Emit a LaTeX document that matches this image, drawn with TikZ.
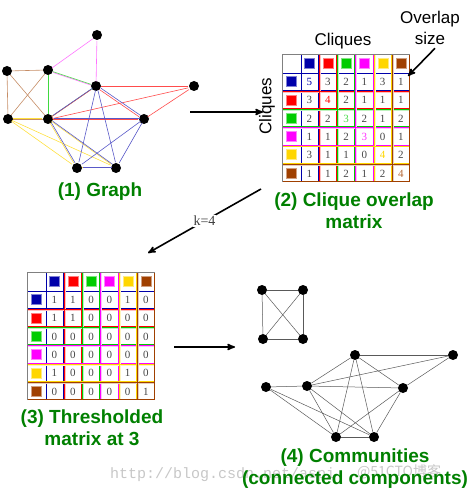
\documentclass[tikz,border=0pt]{standalone}
\usepackage{fontspec}
\setmainfont{Liberation Serif}
\setsansfont{Liberation Sans}
\setmonofont{Liberation Mono}
\newfontfamily\cjkfont{Noto Sans CJK SC}
\usetikzlibrary{arrows, positioning}
\definecolor{cblue}{RGB}{0,0,170}
\definecolor{cred}{RGB}{255,0,0}
\definecolor{cgreen}{RGB}{0,204,0}
\definecolor{cmagenta}{RGB}{255,0,255}
\definecolor{cyellow}{RGB}{255,214,0}
\definecolor{cbrown}{RGB}{160,64,0}
\definecolor{titlegreen}{RGB}{0,128,0}
\definecolor{numgray}{RGB}{70,70,70}
\tikzstyle{vertex} = [circle, fill=black, inner sep=0pt, minimum size=10pt]
\tikzstyle{title} = [font=\sffamily\bfseries\fontsize{19}{22}\selectfont, text=titlegreen, align=center]
\tikzstyle{axis} = [font=\sffamily\fontsize{17}{21}\selectfont, align=center]
\tikzstyle{arrow} = [line width=1.6pt,->,>=stealth']
\tikzstyle{entry} = [font=\fontsize{11}{11}\selectfont, text=numgray, inner sep=0pt]
\tikzstyle{edge} = [line width=0.6pt]
\tikzstyle{comm} = [black!65, line width=0.5pt]
\tikzstyle{qblue} = [edge, cblue!65, transform canvas={shift={(0.7pt,0.7pt)}}]
\tikzstyle{qred} = [edge, cred!70, transform canvas={shift={(-0.7pt,-0.7pt)}}]
\tikzstyle{qgreen} = [edge, cgreen!75]
\tikzstyle{qmagenta} = [edge, cmagenta!55, transform canvas={shift={(0pt,-0.8pt)}}]
\tikzstyle{qyellow} = [edge, cyellow!75, transform canvas={shift={(-0.7pt,0.7pt)}}]
\tikzstyle{qbrown} = [edge, cbrown!60]
% grid of a 7x7 clique matrix, top-left corner at (#1,#2)
\newcommand{\cliquegrid}[2]{%
  \begin{scope}[shift={(#1,#2)}]
    \foreach \c [count=\k] in {cblue,cred,cgreen,cmagenta,cyellow,cbrown} {
      \draw[\c!25, line width=1.6pt] ({\k*18.3+1.2},0) -- ++(0,128.1);
      \draw[\c!25, line width=1.6pt] (0,{\k*18.3+1.2}) -- ++(128.1,0);
      \draw[\c, line width=0.5pt] ({\k*18.3+0.5},0) -- ++(0,128.1);
      \draw[\c, line width=0.5pt] ({(\k+1)*18.3-0.5},0) -- ++(0,128.1);
      \draw[\c, line width=0.5pt] (0,{\k*18.3+0.5}) -- ++(128.1,0);
      \draw[\c, line width=0.5pt] (0,{(\k+1)*18.3-0.5}) -- ++(128.1,0);
      \draw[\c!50, fill=\c] ({\k*18.3+4.2},4.2) rectangle ++(10,10);
      \draw[\c!50, fill=\c] (4.2,{\k*18.3+4.2}) rectangle ++(10,10);
    }
    \draw[gray, line width=0.6pt] (0,128.1) -- (0,0) -- (128.1,0);
  \end{scope}}

\begin{document}
\begin{tikzpicture}[x=1pt, y=-1pt]
\useasboundingbox (0,0) rectangle (470,494);

% watermark
\node[anchor=base west, font=\ttfamily\fontsize{15}{15}\selectfont, text=black!22, inner sep=0pt] (wmark) at (110,478) {http://blog.csdn.net/aspi};
\node[anchor=base west, font=\cjkfont\fontsize{14}{14}\selectfont, text=black!22, inner sep=0pt] (wmark2) at (357,476) {@51CTO博客};

% (1) graph
\node[vertex] (gA) at (97,35) {};
\node[vertex] (gB) at (7,71) {};
\node[vertex] (gC) at (48,70) {};
\node[vertex] (gD) at (96,86) {};
\node[vertex] (gE) at (194,86) {};
\node[vertex] (gF) at (8,119) {};
\node[vertex] (gG) at (48,119) {};
\node[vertex] (gH) at (144,119) {};
\node[vertex] (gI) at (77,168) {};
\node[vertex] (gJ) at (116,168) {};

\foreach \a/\b in {gB/gC, gB/gF, gB/gG, gC/gF, gC/gG, gF/gG}
  \draw[qbrown] (\a) -- (\b);
\foreach \a/\b in {gA/gC, gA/gD, gC/gD}
  \draw[qmagenta] (\a) -- (\b);
\foreach \a/\b in {gC/gD, gC/gG, gD/gG}
  \draw[qgreen] (\a) -- (\b);
\foreach \a/\b in {gF/gG, gF/gI, gF/gJ, gG/gI, gG/gJ, gI/gJ}
  \draw[qyellow] (\a) -- (\b);
\foreach \a/\b in {gD/gE, gD/gH, gD/gG, gG/gH, gG/gE, gH/gE}
  \draw[qred] (\a) -- (\b);
\foreach \a/\b in {gD/gG, gD/gH, gD/gI, gD/gJ, gG/gH, gG/gI, gG/gJ, gH/gI, gH/gJ, gI/gJ}
  \draw[qblue] (\a) -- (\b);

\node[title] (graphtitle) at (100,192) {(1) Graph};

% (2) clique overlap matrix
\cliquegrid{282}{54}
\foreach \row/\dc [count=\i] in {{5,3,2,1,3,1}/cblue, {3,4,2,1,1,1}/cred, {2,2,3,2,1,2}/cgreen!70, {1,1,2,3,0,1}/cmagenta!80, {3,1,1,0,4,2}/cyellow, {1,1,2,1,2,4}/cbrown!80}
  \foreach \v [count=\j] in \row
    \node[entry] at ({282+\j*18.3+9.15},{54+\i*18.3+9.6}) {\ifnum\i=\j\color{\dc}\fi\v};

\node[axis] (cliquestop) at (343,41) {Cliques};
\node[axis, rotate=90] (cliquesleft) at (267,106) {Cliques};
\node[axis] (overlap) at (430,28) {Overlap\\size};
\coordinate (sizetip) at (408,76);
\draw[arrow] ([xshift=5pt]overlap.south) -- (sizetip);

\node[title] (overlaptitle) at (354,211) {(2) Clique overlap\\matrix};

% (3) thresholded matrix
\cliquegrid{27}{272}
\foreach \row [count=\i] in {{1,1,0,0,1,0}, {1,1,0,0,0,0}, {0,0,0,0,0,0}, {0,0,0,0,0,0}, {1,0,0,0,1,0}, {0,0,0,0,0,1}}
  \foreach \v [count=\j] in \row
    \node[entry] at ({27+\j*18.3+9.15},{272+\i*18.3+9.6}) {\v};

\node[title] (threshtitle) at (92,428) {(3) Thresholded\\matrix at 3};

% (4) communities
\node[vertex] (sB) at (262,290) {};
\node[vertex] (sC) at (303,290) {};
\node[vertex] (sF) at (263,339) {};
\node[vertex] (sG) at (303,339) {};
\foreach \a/\b in {sB/sC, sB/sF, sB/sG, sC/sF, sC/sG, sF/sG}
  \draw[comm] (\a) -- (\b);

\node[vertex] (cD) at (355,355) {};
\node[vertex] (cE) at (453,355) {};
\node[vertex] (cF) at (266,387) {};
\node[vertex] (cG) at (307,386) {};
\node[vertex] (cH) at (403,388) {};
\node[vertex] (cI) at (336,437) {};
\node[vertex] (cJ) at (374,437) {};
\foreach \a/\b in {cD/cG, cD/cH, cD/cI, cD/cJ, cG/cH, cG/cI, cG/cJ, cH/cI, cH/cJ, cI/cJ, cD/cE, cG/cE, cH/cE, cF/cG, cF/cI, cF/cJ}
  \draw[comm] (\a) -- (\b);

\node[title] (commtitle) at (355,469) {(4) Communities\\(connected components)};

% arrows between the panels
\coordinate (graphout) at (190,112);
\coordinate (matin) at (263,112);
\coordinate (kfrom) at (261,189);
\coordinate (kto) at (148,253);
\coordinate (threshout) at (174,347);
\coordinate (commin) at (235,347);
\draw[arrow] (graphout) -- (matin);
\draw[arrow] (kfrom) -- node[fill=white, inner sep=1pt, font=\fontsize{14}{14}\selectfont, text=black!75] (klabel) {k=4} (kto);
\draw[arrow] (threshout) -- (commin);

\end{tikzpicture}
\end{document}
